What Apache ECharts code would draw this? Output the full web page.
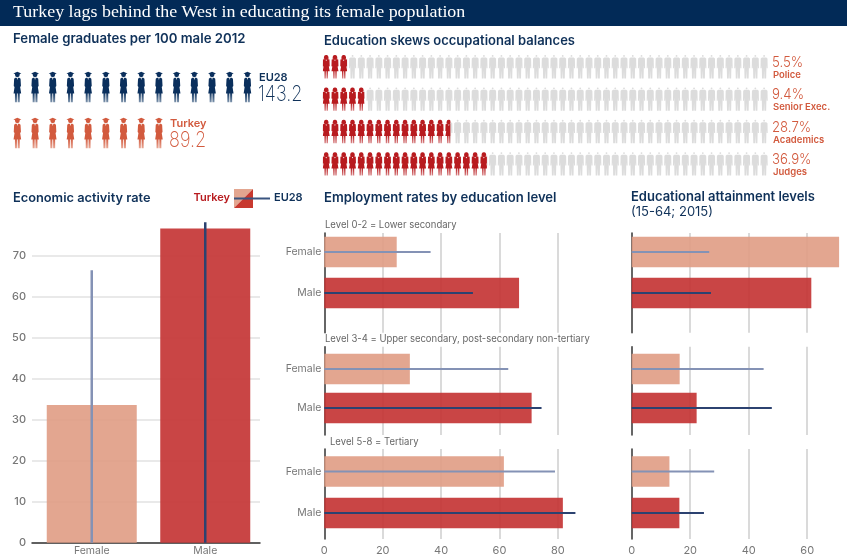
<!DOCTYPE html>
<html><head><meta charset="utf-8">
<style>html,body{margin:0;padding:0;background:#fff}#c{width:847px;height:556px}</style>
<script src="https://cdn.jsdelivr.net/npm/echarts@6/dist/echarts.min.js"></script>
</head><body><div id="c"></div>
<script>
// ---- data ----
const gradRegions = ['EU28', 'Turkey'];
const gradValues = [143.2, 89.2];
const occupations = ['Police', 'Senior Exec.', 'Academics', 'Judges'];
const occupationShare = [5.5, 9.4, 28.7, 36.9];
const genders = ['Female', 'Male'];
const activityTurkey = [33.6, 76.7];
const activityEU = [66.5, 78.2];
const levelNames = ['Level 0-2 = Lower secondary', 'Level 3-4 = Upper secondary, post-secondary non-tertiary', 'Level 5-8 = Tertiary'];
const employTurkey = [[24.8, 66.7], [29.3, 71], [61.5, 81.7]];
const employEU = [[36.4, 50.9], [63, 74.4], [79, 86]];
const attainTurkey = [[70.9, 61.4], [16.4, 22.2], [12.9, 16.3]];
const attainEU = [[26.5, 27.1], [45.1, 47.9], [28.2, 24.7]];

// ---- style ----
const NAVY = '#0f3159', FONT = 'Inter, "Open Sans", sans-serif';
const COL_F = '#e09c84', COL_M = '#c43535', EU_F = '#8492b5', EU_M = '#2c4270';
const GRAD_SYMBOL = 'path://M40 0L80 16L64 23L64 30A24 24 0 0 1 16 30L16 23L0 16Z M20 60L34 60L40 82L46 60L60 60L72 70L76 140L68 150L78 215L64 215L64 300L44 300L44 215L36 215L36 300L16 300L16 215L2 215L12 150L4 140L8 70Z';
const WOMAN_SYMBOL = 'path://M32 0A18 19 0 0 1 52 18L54 36L42 38L62 44L64 110L56 112L64 160L48 160L48 230L35 230L35 160L29 160L29 230L16 230L16 160L0 160L8 112L0 110L2 44L22 38L10 36L12 18A18 19 0 0 1 32 0Z M26 46L32 62L38 46Z';
const MAN_SYMBOL = 'path://M35 0A9 9 0 0 1 35 18A9 9 0 0 1 35 0Z M14 24L56 24L68 34L70 130L60 130L58 100L55 230L38 230L35 150L32 230L15 230L12 100L10 130L0 130L2 34Z';
const fade = (c, l) => new echarts.graphic.LinearGradient(0, 0, 0, 1, [{offset: 0, color: c}, {offset: .68, color: c}, {offset: 1, color: l}]);

const grid = [], xAxis = [], yAxis = [], series = [], graphic = [];
function addGrid(l, t, w, h, xa, ya) {
  const i = grid.length;
  grid.push({left: l, top: t, width: w, height: h, containLabel: false, outerBoundsMode: 'none'});
  xa.gridIndex = i; ya.gridIndex = i;
  xAxis.push(xa); yAxis.push(ya);
  return i;
}
const hiddenValue = (min, max) => ({type: 'value', min, max, show: false, splitLine: {show: false}});
const hiddenCat = (data, inverse) => ({type: 'category', data, inverse, show: false});
function text(t, x, y, font, fill, align, sx) {
  graphic.push({type: 'text', x, y, scaleX: sx || 1, silent: true, style: {text: t, font, fill, textAlign: align || 'left', textVerticalAlign: 'middle'}});
}
// EU28 reference line drawn through the chart's own scales
function euLines(g, values, colors, thick, horizontal) {
  series.push({type: 'custom', xAxisIndex: g, yAxisIndex: g, z: 5, clip: false,
    data: values.map((v, i) => horizontal ? [v, i] : [i, v]),
    encode: {x: 0, y: 1},
    renderItem(params, api) {
      const i = params.dataIndex, v = values[i];
      const a = api.coord(horizontal ? [0, i] : [i, 0]);
      const b = api.coord(horizontal ? [v, i] : [i, v]);
      const shape = horizontal
        ? {x: a[0], y: a[1] - thick / 2, width: b[0] - a[0], height: thick}
        : {x: b[0] - thick / 2, y: b[1], width: thick, height: a[1] - b[1]};
      return {type: 'rect', shape, style: {fill: colors[i]}};
    }});
}

// header
graphic.push({type: 'rect', shape: {x: 0, y: 0, width: 847, height: 26}, style: {fill: '#022a57'}, z: -1});
text('Turkey lags behind the West in educating its female population', 13, 13, '16px "Liberation Serif"', '#fff', 'left', 1.12);
text('Female graduates per 100 male 2012', 13, 39, '600 13.2px ' + FONT, NAVY);
text('Education skews occupational balances', 324, 41, '600 13px ' + FONT, NAVY);
text('Economic activity rate', 13, 198, '600 12.8px ' + FONT, NAVY);
text('Employment rates by education level', 324, 198, '600 13.1px ' + FONT, NAVY);
text('Educational attainment levels', 631, 197, '600 13px ' + FONT, NAVY);
text('(15-64; 2015)', 631, 212, '400 13px ' + FONT, NAVY);

// graduates pictogram: one figure per 10 graduates
{
  const g = addGrid(8.5, 64, 300, 92, hiddenValue(0, 169.5), hiddenCat(gradRegions, true));
  const cols = ['#0a2f5c', '#d25a3e'], lights = ['#7f95ad', '#e8a795'];
  series.push({type: 'pictorialBar', xAxisIndex: g, yAxisIndex: g, symbol: GRAD_SYMBOL, symbolSize: [8, 30.5], symbolMargin: '4.85!',
    symbolPosition: 'start', symbolClip: false, barCategoryGap: 0,
    data: gradValues.map((v, i) => ({value: v, symbolRepeat: Math.round(v / 10), symbolBoundingData: Math.round(v / 10) * 10, itemStyle: {color: fade(cols[i], lights[i])}}))});
  text(gradRegions[0], 259, 78, '600 11px ' + FONT, NAVY);
  text(String(gradValues[0]), 258, 94, '200 22px ' + FONT, NAVY, 'left', .82);
  text(gradRegions[1], 170, 124, '600 11px ' + FONT, '#d25a3e');
  text(String(gradValues[1]), 169, 140, '200 22px ' + FONT, '#d25a3e', 'left', .82);
}

// occupations pictogram: one figure per 2 percent
{
  const g = addGrid(322.7, 50.5, 445, 129.6, hiddenValue(0, 100), hiddenCat(occupations, true));
  series.push({type: 'pictorialBar', xAxisIndex: g, yAxisIndex: g, symbol: MAN_SYMBOL, symbolSize: [7.2, 23.4], symbolMargin: 0.865,
    symbolRepeat: true, symbolPosition: 'start', symbolBoundingData: 100, symbolClip: false, itemStyle: {color: '#dcdcdc'}, z: 2, barGap: '-100%',
    data: occupationShare.map(() => 100)});
  series.push({type: 'bar', xAxisIndex: g, yAxisIndex: g, barWidth: 26, itemStyle: {color: '#fff'}, z: 3, data: occupationShare});
  series.push({type: 'pictorialBar', xAxisIndex: g, yAxisIndex: g, symbol: WOMAN_SYMBOL, symbolSize: [7, 23.4], symbolMargin: 0.965,
    symbolRepeat: true, symbolPosition: 'start', symbolBoundingData: 100, symbolClip: true, itemStyle: {color: fade('#b81b1f', '#d9888a')}, z: 4, barGap: '-100%',
    data: occupationShare});
  const ys = [62, 94, 127, 159];
  occupations.forEach((o, i) => {
    text(occupationShare[i].toFixed(1) + '%', 772, ys[i], '300 15px ' + FONT, '#d25a3e', 'left', .88);
    text(o, 773, ys[i] + 13, '600 9.5px ' + FONT, '#d25a3e');
  });
}

// economic activity rate
{
  addGrid(32, 215, 228, 327.7,
    {type: 'category', data: [''], axisLine: {show: true, lineStyle: {color: '#333', width: 1.5}}, axisTick: {show: false}, axisLabel: {show: false}},
    {type: 'value', min: 0, max: 80, interval: 10, axisLine: {show: false}, axisTick: {show: false}, splitLine: {showMaxLine: false, lineStyle: {color: '#e2e2e2', width: 1.5}},
     axisLabel: {color: '#777', fontFamily: FONT, fontWeight: 500, fontSize: 11, margin: 6, padding: [5, 0, 0, 0], showMaxLabel: false}});
  const g1 = addGrid(35, 215, 227, 327.7,
    {type: 'category', data: genders, axisLine: {show: false}, axisTick: {show: false}, axisLabel: {color: '#777', fontFamily: FONT, fontSize: 10.5, margin: 3}},
    {type: 'value', min: 0, max: 80, show: false, splitLine: {show: false}});
  series.push({type: 'bar', xAxisIndex: g1, yAxisIndex: g1, barWidth: 90, z: 3,
    data: activityTurkey.map((v, i) => ({value: v, itemStyle: {color: i ? COL_M : COL_F, opacity: i ? .92 : .9}}))});
  euLines(g1, activityEU, [EU_F, EU_M], 2.5, false);
  // legend key
  text('Turkey', 230, 198, '600 11px ' + FONT, '#b81b1f', 'right');
  graphic.push({type: 'polygon', shape: {points: [[234, 189], [253, 189], [234, 208]]}, style: {fill: '#e3a690'}});
  graphic.push({type: 'polygon', shape: {points: [[253, 189], [253, 208], [234, 208]]}, style: {fill: '#c8392f'}});
  graphic.push({type: 'line', shape: {x1: 234, y1: 198.5, x2: 270, y2: 198.5}, style: {stroke: '#3a5580', lineWidth: 2}, z: 5});
  text('EU28', 274, 198, '600 11px ' + FONT, NAVY);
}

// small multiples
const panels = [
  {top: 233, bottom: 332.7, c: [252, 293]},
  {top: 346.7, bottom: 435, c: [369, 408]},
  {top: 449, bottom: 539, c: [471.5, 513]}
];
function column(left, width, max, turkey, eu, showCats) {
  panels.forEach((p, i) => {
    const last = i === panels.length - 1;
    addGrid(left, p.top, width, p.bottom - p.top,
      {type: 'value', min: 0, max, interval: 20, axisLine: {show: false}, axisTick: {show: false},
       splitLine: {show: true, showMinLine: false, showMaxLine: false, lineStyle: {color: '#dadada', width: 2}},
       axisLabel: {show: last, showMaxLabel: false, color: '#777', fontFamily: FONT, fontSize: 11, margin: 6}},
      {type: 'category', data: [''], axisLine: {show: true, onZero: false, lineStyle: {color: '#333', width: 1.5}}, axisTick: {show: false}, axisLabel: {show: false}});
    const band = p.c[1] - p.c[0];
    const g1 = addGrid(left, p.c[0] - band / 2, width, band * 2, hiddenValue(0, max),
      {type: 'category', data: genders, inverse: true, axisLine: {show: false}, axisTick: {show: false},
       axisLabel: {show: showCats, color: '#777', fontFamily: FONT, fontSize: 10.5, margin: 3, padding: [2, 0, 0, 0]}});
    series.push({type: 'bar', xAxisIndex: g1, yAxisIndex: g1, barWidth: 30.5, z: 3,
      data: turkey[i].map((v, k) => ({value: v, itemStyle: {color: k ? COL_M : COL_F, opacity: k ? .92 : .9}}))});
    euLines(g1, eu[i], [EU_F, EU_M], 1.8, true);
  });
}
column(324.3, 262.8, 90, employTurkey, employEU, true);
column(631.7, 207.4, 70.9, attainTurkey, attainEU, false);
text(levelNames[0], 325, 225, '400 10px ' + FONT, '#666', 'left', .95);
text(levelNames[1], 325, 339, '400 10px ' + FONT, '#666', 'left', .95);
text(levelNames[2], 330, 442, '400 10px ' + FONT, '#666', 'left', .95);

const chart = echarts.init(document.getElementById('c'), null, {renderer: 'canvas'});
chart.setOption({animation: false, backgroundColor: '#fff', tooltip: {show: false}, grid, xAxis, yAxis, series, graphic: {elements: graphic}});
</script></body></html>
